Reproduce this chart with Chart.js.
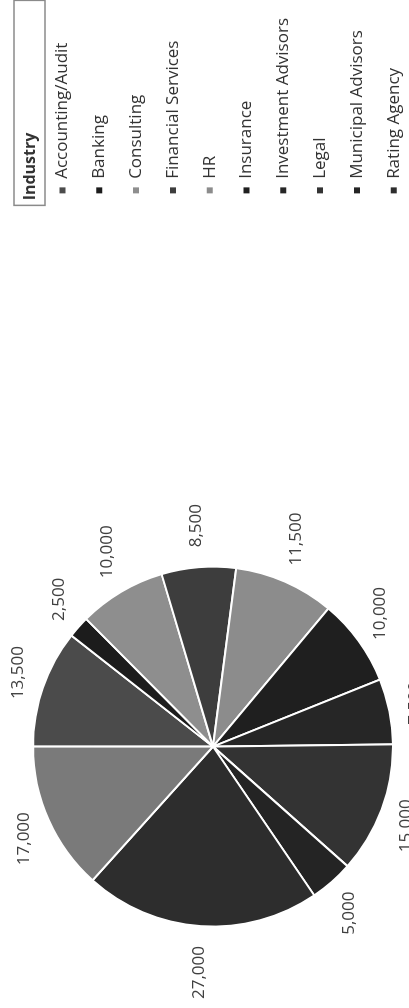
<!DOCTYPE html>
<html>
<head>
<meta charset="utf-8">
<script src="https://cdn.jsdelivr.net/npm/chart.js@4"></script>
<style>
html, body { margin:0; padding:0; background:#ffffff; overflow:hidden; width:409px; height:1008px; }
#wrap { position:absolute; left:0; top:0; width:1308px; height:470px; transform-origin:0 0; transform:translate(0px,1308px) rotate(-90deg); }
canvas { display:block; }
</style>
</head>
<body>
<div id="wrap"><canvas id="c" width="1308" height="470" style="width:1308px;height:470px"></canvas></div>
<script>
// ---- data ----
const categories = ['Accounting/Audit', 'Banking', 'Consulting', 'Financial Services', 'HR', 'Insurance', 'Investment Advisors', 'Legal', 'Municipal Advisors', 'Rating Agency', 'Other'];
const values = [13500, 2500, 10000, 8500, 11500, 10000, 7500, 15000, 5000, 27000, 17000];
const sliceColors = ['#4b4b4b', '#1c1c1c', '#8e8e8e', '#3d3d3d', '#8c8c8c', '#1f1f1f', '#262626', '#333333', '#242424', '#2d2d2d', '#7a7a7a'];
const legendTitle = 'Industry';

const FONT = '"Open Sans", "DejaVu Sans", sans-serif';

const valueLabels = {
  id: 'valueLabels',
  afterDatasetsDraw(chart) {
    const ctx = chart.ctx;
    const meta = chart.getDatasetMeta(0);
    const data = chart.data.datasets[0].data;
    ctx.save();
    ctx.font = '17px ' + FONT;
    ctx.fillStyle = '#404040';
    ctx.textAlign = 'center';
    ctx.textBaseline = 'middle';
    meta.data.forEach((arc, i) => {
      const p = arc.getProps(['x', 'y', 'startAngle', 'endAngle', 'outerRadius'], true);
      const a = (p.startAngle + p.endAngle) / 2;
      const ux = Math.cos(a), uy = Math.sin(a);
      const txt = data[i].toLocaleString('en-US');
      const w = ctx.measureText(txt).width, h = 13, gap = 20;
      ctx.fillText(txt, p.x + ux * (p.outerRadius + gap) + ux * w / 2, p.y + uy * (p.outerRadius + gap) + uy * h / 2);
    });
    ctx.restore();
  }
};

const legendHeader = {
  id: 'legendHeader',
  afterDraw(chart) {
    const lg = chart.legend;
    if (!lg) return;
    const bx = lg.left + lg.options.labels.padding;
    const ctx = chart.ctx;
    ctx.save();
    ctx.strokeStyle = '#8a8a8a';
    ctx.lineWidth = 1.5;
    ctx.strokeRect(bx - 12, lg.top + 10, 205, 31);
    ctx.font = 'bold 16px ' + FONT;
    ctx.fillStyle = '#333333';
    ctx.textAlign = 'left';
    ctx.textBaseline = 'middle';
    ctx.fillText(legendTitle, bx - 7, lg.top + 26);
    ctx.restore();
  }
};

const baseGen = Chart.overrides.doughnut.plugins.legend.labels.generateLabels;

new Chart(document.getElementById('c'), {
  type: 'pie',
  data: {
    labels: categories,
    datasets: [{
      data: values,
      backgroundColor: sliceColors,
      borderColor: '#ffffff',
      borderWidth: 2,
      radius: 180
    }]
  },
  options: {
    responsive: false,
    animation: false,
    layout: { padding: { left: 28, right: 8, top: 4, bottom: 48 } },
    plugins: {
      tooltip: { enabled: false },
      legend: {
        display: true,
        position: 'right',
        align: 'end',
        labels: {
          boxWidth: 6,
          boxHeight: 6,
          padding: 19.8,
          color: '#333333',
          font: { family: FONT, size: 17 },
          generateLabels(chart) {
            return baseGen(chart).map(l => Object.assign(l, { lineWidth: 0 }));
          },
          filter(item) { return item.index < 10; }
        }
      }
    }
  },
  plugins: [valueLabels, legendHeader]
});
</script>
</body>
</html>
